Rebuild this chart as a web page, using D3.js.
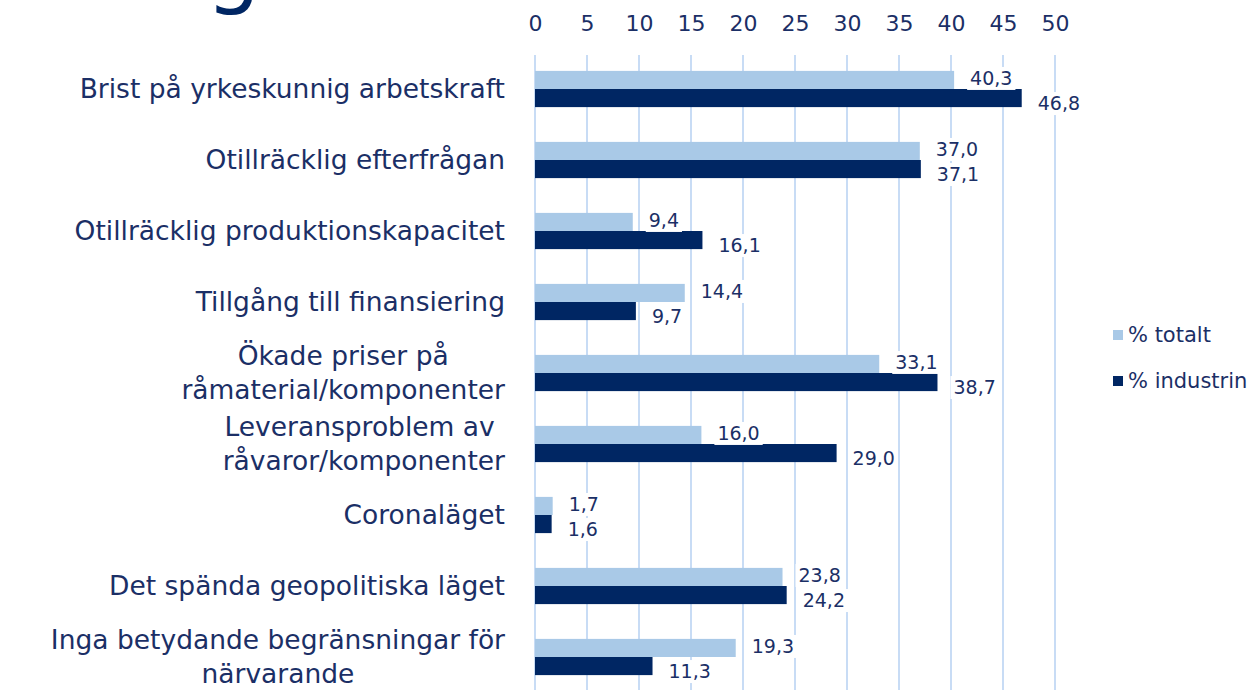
<!DOCTYPE html>
<html>
<head>
<meta charset="utf-8">
<script src="https://cdn.jsdelivr.net/npm/d3@7"></script>
<style>
  body { margin: 0; background: #fff; }
  svg text { font-family: "DejaVu Sans", sans-serif; fill: #1b2f66; }
</style>
</head>
<body>
<div id="chart"></div>
<script>
// ---- DATA ----
const categories = [
  ["Brist på yrkeskunnig arbetskraft"],
  ["Otillräcklig efterfrågan"],
  ["Otillräcklig produktionskapacitet"],
  ["Tillgång till finansiering"],
  ["Ökade priser på", "råmaterial/komponenter"],
  ["Leveransproblem av ", "råvaror/komponenter"],
  ["Coronaläget"],
  ["Det spända geopolitiska läget"],
  ["Inga betydande begränsningar för", "närvarande"]
];
const seriesNames = ["% totalt", "% industrin"];
const totalt = [40.3, 37.0, 9.4, 14.4, 33.1, 16.0, 1.7, 23.8, 19.3];
const industrin = [46.8, 37.1, 16.1, 9.7, 38.7, 29.0, 1.6, 24.2, 11.3];
const xTicks = [0, 5, 10, 15, 20, 25, 30, 35, 40, 45, 50];

const width = 1250, height = 690;
const colors = ["#a9c9e7", "#002663"];
const fmt = v => d3.format(".1f")(v).replace(".", ",");

const svg = d3.select("#chart").append("svg")
  .attr("width", width).attr("height", height);

// cut-off title glyph at the top
svg.append("text")
  .attr("x", 206).attr("y", -3)
  .attr("font-size", 86)
  .style("fill", "#002663")
  .text("g");

// ---- SCALES ----
const x = d3.scaleLinear().domain([0, 50]).range([535, 1055]);

const y = d3.scaleBand()
  .domain(d3.range(categories.length))
  .range([53.5, 692.5])
  .paddingInner(0.49)
  .paddingOuter(0.245);

const ySub = d3.scaleBand()
  .domain([0, 1])
  .range([0, y.bandwidth()]);

// ---- GRID ----
svg.append("g").selectAll("line")
  .data(xTicks)
  .enter().append("line")
  .attr("x1", d => x(d)).attr("x2", d => x(d))
  .attr("y1", 55).attr("y2", height)
  .attr("stroke", "#c8dcf5").attr("stroke-width", 2);

// ---- AXIS ----
const axis = svg.append("g")
  .attr("transform", "translate(0,31)")
  .call(d3.axisTop(x).tickValues(xTicks).tickSize(0).tickPadding(0));
axis.select(".domain").remove();
axis.selectAll("text")
  .attr("font-size", 22)
  .style("font-family", "DejaVu Sans, sans-serif")
  .style("fill", "#1b2f66");

// ---- BARS ----
const rows = categories.map((c, i) => ({ i, vals: [totalt[i], industrin[i]] }));

const groups = svg.append("g").selectAll("g")
  .data(rows)
  .enter().append("g")
  .attr("transform", d => `translate(0,${y(d.i)})`);

groups.selectAll("rect")
  .data(d => d.vals.map((v, s) => ({ v, s })))
  .enter().append("rect")
  .attr("x", x(0))
  .attr("y", d => ySub(d.s))
  .attr("width", d => x(d.v) - x(0))
  .attr("height", ySub.bandwidth())
  .attr("fill", d => colors[d.s]);

// ---- VALUE LABELS ----
const labelLayer = svg.append("g");
rows.forEach(r => {
  r.vals.forEach((v, s) => {
    const cy = y(r.i) + ySub(s) + ySub.bandwidth() / 2 + (s === 0 ? -2 : 5);
    const g = labelLayer.append("g");
    const t = g.append("text")
      .attr("x", x(v) + 16)
      .attr("y", cy)
      .attr("dy", "0.35em")
      .attr("font-size", 19)
      .text(fmt(v));
    const w = t.node().getComputedTextLength();
    g.insert("rect", "text")
      .attr("x", x(v) + 13)
      .attr("y", cy - 11)
      .attr("width", w + 6)
      .attr("height", 23)
      .attr("fill", "#fff");
  });
});

// ---- CATEGORY LABELS ----
const lineH = 34;
categories.forEach((lines, i) => {
  const g = svg.append("g");
  const cy = y(i) + y.bandwidth() / 2;
  const texts = lines.map((ln, k) => g.append("text")
    .attr("font-size", 26.5)
    .attr("text-anchor", "middle")
    .attr("y", cy + (k - (lines.length - 1) / 2) * lineH)
    .attr("dy", "0.35em")
    .style("white-space", "pre")
    .text(ln));
  const maxW = d3.max(texts, t => t.node().getComputedTextLength());
  texts.forEach(t => t.attr("x", 505 - maxW / 2));
});

// ---- LEGEND ----
const legend = svg.append("g").selectAll("g")
  .data(seriesNames)
  .enter().append("g")
  .attr("transform", (d, i) => `translate(1113,${335 + i * 46})`);
legend.append("rect")
  .attr("x", 0).attr("y", -5)
  .attr("width", 10).attr("height", 10)
  .attr("fill", (d, i) => colors[i]);
legend.append("text")
  .attr("x", 15).attr("y", 0)
  .attr("dy", "0.35em")
  .attr("font-size", 21)
  .text(d => d);
</script>
</body>
</html>
